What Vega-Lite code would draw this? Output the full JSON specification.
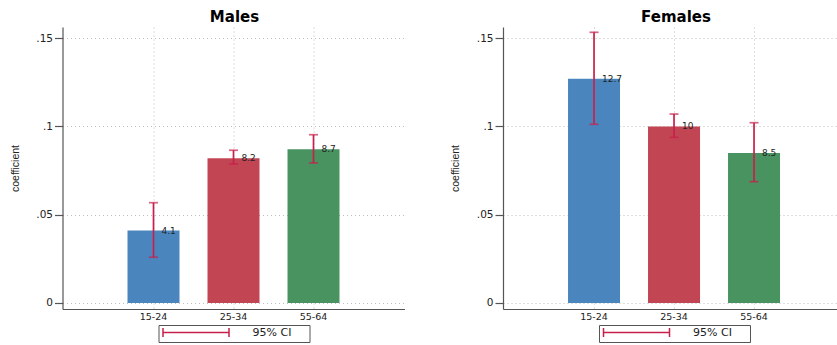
{
  "$schema": "https://vega.github.io/schema/vega-lite/v6.json",
  "padding": {"left": 9.5, "top": 10, "right": 0, "bottom": 0},
  "spacing": 45.5,
  "datasets": {
    "d": [
      {"sex": "Males", "age": "15-24", "coef": 0.041, "lo": 0.0259, "hi": 0.0568, "pct": "4.1"},
      {"sex": "Males", "age": "25-34", "coef": 0.082, "lo": 0.0787, "hi": 0.0865, "pct": "8.2"},
      {"sex": "Males", "age": "55-64", "coef": 0.087, "lo": 0.0793, "hi": 0.0953, "pct": "8.7"},
      {"sex": "Females", "age": "15-24", "coef": 0.127, "lo": 0.1012, "hi": 0.1533, "pct": "12.7"},
      {"sex": "Females", "age": "25-34", "coef": 0.100, "lo": 0.0938, "hi": 0.107, "pct": "10"},
      {"sex": "Females", "age": "55-64", "coef": 0.085, "lo": 0.0687, "hi": 0.1021, "pct": "8.5"}
    ]
  },
  "config": {
    "view": {"stroke": null},
    "font": "DejaVu Sans",
    "axis": {
      "gridColor": "#bdbdbd", "gridDash": [1, 3], "gridWidth": 1,
      "domainColor": "#555555", "domainWidth": 1.2,
      "tickColor": "#555555", "tickWidth": 1.2,
      "labelColor": "#222222", "labelFont": "DejaVu Sans"
    },
    "title": {"font": "DejaVu Sans", "fontSize": 15, "fontWeight": "bold", "color": "#000000", "offset": 2}
  },
  "hconcat": [
    {
      "title": {"text": "Males", "dx": 1},
      "width": 342, "height": 282,
      "data": {"name": "d"},
      "transform": [{"filter": "datum.sex === 'Males'"}],
      "encoding": {
        "x": {"field": "age", "type": "nominal", "sort": null,
          "scale": {"paddingInner": 0.35, "paddingOuter": 0.8125},
          "axis": {"title": null, "labelAngle": 0, "ticks": false, "grid": true, "bandPosition": 0.5, "labelPadding": 2, "labelFontSize": 9.5}}
      },
      "layer": [
        {"mark": {"type": "bar"},
         "encoding": {
           "y": {"field": "coef", "type": "quantitative",
             "scale": {"domain": [-0.0034, 0.1563], "nice": false},
             "axis": {"values": [0, 0.05, 0.1, 0.15], "labelExpr": "datum.value === 0 ? '0' : slice(format(datum.value, '.2~f'), 1)",
               "title": "coefficient", "titleFont": "Liberation Sans", "titleFontSize": 10.5, "titleFontWeight": "normal", "titleColor": "#222222",
               "titlePadding": 15.5, "tickSize": 8, "labelPadding": 2, "labelFontSize": 10.5, "grid": true}},
           "color": {"field": "age", "type": "nominal", "scale": {"domain": ["15-24", "25-34", "55-64"], "range": ["#4a86bd", "#c14553", "#499360"]}, "legend": null}
         }},
        {"mark": {"type": "rule", "strokeWidth": 1.7},
         "encoding": {
           "y": {"field": "lo", "type": "quantitative"},
           "y2": {"field": "hi"},
           "stroke": {"datum": "95% CI", "type": "nominal", "scale": {"range": ["#c8204c"]},
             "legend": {"title": null, "orient": "none", "legendX": 96, "legendY": 298, "padding": 2,
               "strokeColor": "#555555", "fillColor": "#ffffff",
               "symbolType": "M-8.25,0H8.25M-8.25,-1.1V1.1M8.25,-1.1V1.1", "symbolSize": 64, "symbolStrokeWidth": 1.5,
               "symbolFillColor": "transparent", "symbolOffset": 30, "labelOffset": 51,
               "labelFont": "DejaVu Sans", "labelFontSize": 11, "labelColor": "#222222",
               "labelExpr": "'95% CI\u2800\u2800'"}}
         }},
        {"mark": {"type": "tick", "color": "#c8204c", "thickness": 1.7, "size": 9},
         "encoding": {"y": {"field": "lo", "type": "quantitative"}}},
        {"mark": {"type": "tick", "color": "#c8204c", "thickness": 1.7, "size": 9},
         "encoding": {"y": {"field": "hi", "type": "quantitative"}}},
        {"mark": {"type": "text", "align": "left", "baseline": "middle", "dx": 8, "font": "DejaVu Sans", "fontSize": 9, "color": "#222222"},
         "encoding": {"y": {"field": "coef", "type": "quantitative"}, "text": {"field": "pct"}}}
      ]
    },
    {
      "title": {"text": "Females", "dx": 6},
      "width": 334, "height": 282,
      "data": {"name": "d"},
      "transform": [{"filter": "datum.sex === 'Females'"}],
      "encoding": {
        "x": {"field": "age", "type": "nominal", "sort": null,
          "scale": {"paddingInner": 0.35, "paddingOuter": 0.7625, "align": 0.533},
          "axis": {"title": null, "labelAngle": 0, "ticks": false, "grid": true, "bandPosition": 0.5, "labelPadding": 2, "labelFontSize": 9.5}}
      },
      "layer": [
        {"mark": {"type": "bar"},
         "encoding": {
           "y": {"field": "coef", "type": "quantitative",
             "scale": {"domain": [-0.0034, 0.1563], "nice": false},
             "axis": {"values": [0, 0.05, 0.1, 0.15], "labelExpr": "datum.value === 0 ? '0' : slice(format(datum.value, '.2~f'), 1)",
               "title": "coefficient", "titleFont": "Liberation Sans", "titleFontSize": 10.5, "titleFontWeight": "normal", "titleColor": "#222222",
               "titlePadding": 15.5, "tickSize": 8, "labelPadding": 2, "labelFontSize": 10.5, "grid": true}},
           "color": {"field": "age", "type": "nominal", "scale": {"domain": ["15-24", "25-34", "55-64"], "range": ["#4a86bd", "#c14553", "#499360"]}, "legend": null}
         }},
        {"mark": {"type": "rule", "strokeWidth": 1.7},
         "encoding": {
           "y": {"field": "lo", "type": "quantitative"},
           "y2": {"field": "hi"},
           "stroke": {"datum": "95% CI", "type": "nominal", "scale": {"range": ["#c8204c"]},
             "legend": {"title": null, "orient": "none", "legendX": 96, "legendY": 298, "padding": 2,
               "strokeColor": "#555555", "fillColor": "#ffffff",
               "symbolType": "M-8.25,0H8.25M-8.25,-1.1V1.1M8.25,-1.1V1.1", "symbolSize": 64, "symbolStrokeWidth": 1.5,
               "symbolFillColor": "transparent", "symbolOffset": 30, "labelOffset": 51,
               "labelFont": "DejaVu Sans", "labelFontSize": 11, "labelColor": "#222222",
               "labelExpr": "'95% CI\u2800\u2800'"}}
         }},
        {"mark": {"type": "tick", "color": "#c8204c", "thickness": 1.7, "size": 9},
         "encoding": {"y": {"field": "lo", "type": "quantitative"}}},
        {"mark": {"type": "tick", "color": "#c8204c", "thickness": 1.7, "size": 9},
         "encoding": {"y": {"field": "hi", "type": "quantitative"}}},
        {"mark": {"type": "text", "align": "left", "baseline": "middle", "dx": 8, "font": "DejaVu Sans", "fontSize": 9, "color": "#222222"},
         "encoding": {"y": {"field": "coef", "type": "quantitative"}, "text": {"field": "pct"}}}
      ]
    }
  ],
  "resolve": {"scale": {"stroke": "independent", "y": "independent", "x": "independent"}, "legend": {"stroke": "independent"}}
}
